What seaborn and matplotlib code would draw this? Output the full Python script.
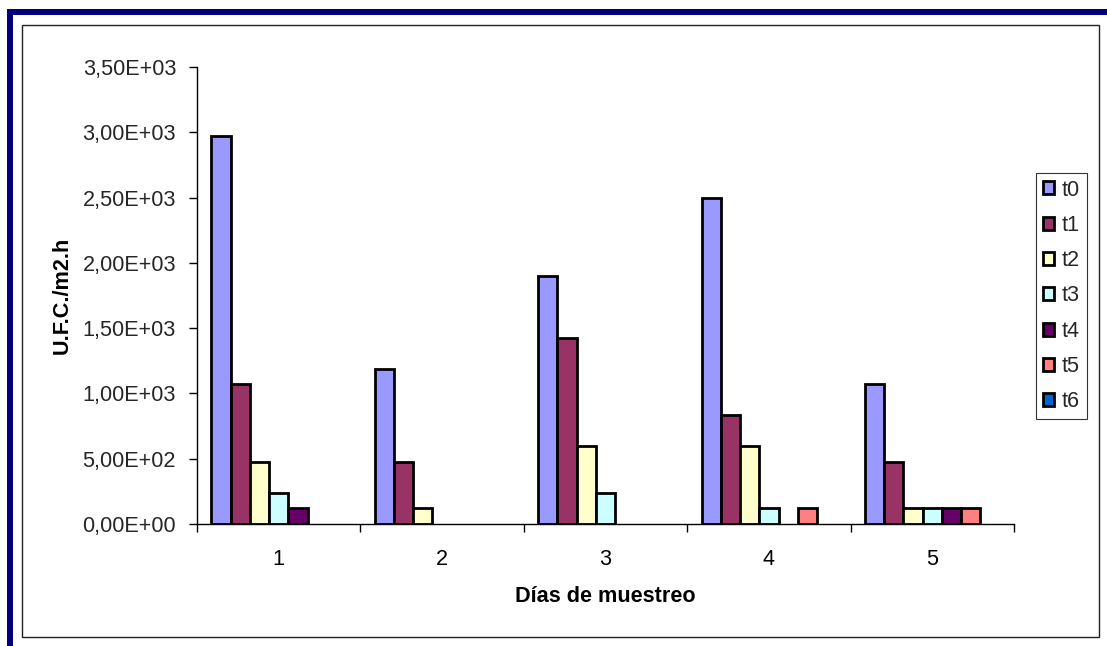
import matplotlib
matplotlib.use("Agg")
import matplotlib.pyplot as plt
from matplotlib.patches import Rectangle, Patch
from matplotlib.ticker import FuncFormatter, FixedLocator
import seaborn as sns
import pandas as pd

# Sampling days and exposure times
dias = ["1", "2", "3", "4", "5"]
tiempos = ["t0", "t1", "t2", "t3", "t4", "t5", "t6"]

# U.F.C./m2.h for each exposure time, one value per sampling day
t0 = [2970.0, 1188.0, 1900.8, 2494.8, 1069.2]
t1 = [1069.2, 475.2, 1425.6, 831.6, 475.2]
t2 = [475.2, 118.8, 594.0, 594.0, 118.8]
t3 = [237.6, 0.0, 237.6, 118.8, 118.8]
t4 = [118.8, 0.0, 0.0, 0.0, 118.8]
t5 = [0.0, 0.0, 0.0, 118.8, 118.8]
t6 = [0.0, 0.0, 0.0, 0.0, 0.0]

colores = ["#9999FF", "#993366", "#FFFFCC", "#CCFFFF", "#660066", "#FF8080", "#0066CC"]

series = [t0, t1, t2, t3, t4, t5, t6]
df = pd.DataFrame(
    [(d, t, v) for t, vals in zip(tiempos, series) for d, v in zip(dias, vals)],
    columns=["dia", "tiempo", "ufc"],
)

sns.set_theme(style="white")
plt.rcParams["font.family"] = ["Liberation Sans", "DejaVu Sans"]

FS = 15.6
W, H = 1107, 646
fig = plt.figure(figsize=(W / 100, H / 100), dpi=100)
fig.patch.set_facecolor("white")

# Page frame: navy band at top/left and thin inner chart border
navy = "#000080"
fig.add_artist(Rectangle((7 / W, 0), 6 / W, 1 - 9 / H, transform=fig.transFigure,
                         facecolor=navy, edgecolor="none"))
fig.add_artist(Rectangle((7 / W, 1 - 15 / H), 1 - 7 / W, 6 / H, transform=fig.transFigure,
                         facecolor=navy, edgecolor="none"))
fig.add_artist(Rectangle((22 / W, 1 - 637 / H), (1099 - 22) / W, (637 - 25) / H,
                         transform=fig.transFigure, facecolor="none",
                         edgecolor="#222222", linewidth=1.0))

ax = fig.add_axes([197 / W, 1 - 524 / H, (1014 - 197) / W, (524 - 67) / H])

sns.barplot(data=df, x="dia", y="ufc", hue="tiempo", order=dias, hue_order=tiempos,
            palette=colores, saturation=1, width=7 / 8.5, gap=0, edgecolor="black",
            linewidth=2.0, errorbar=None, legend=False, ax=ax)

# Empty bars are not drawn
for p in ax.patches:
    if p.get_height() == 0:
        p.set_visible(False)

ax.set_xlim(-0.5, len(dias) - 0.5)
ax.set_ylim(0, 3500)
ax.set_yticks([0, 500, 1000, 1500, 2000, 2500, 3000, 3500])
ax.yaxis.set_major_formatter(FuncFormatter(lambda v, _: f"{v:.2E}".replace(".", ",")))

ax.xaxis.set_minor_locator(FixedLocator([i - 0.5 for i in range(len(dias) + 1)]))
ax.tick_params(axis="x", which="major", length=0, pad=18, labelsize=FS, colors="black")
ax.tick_params(axis="x", which="minor", length=6, width=1, color="black", direction="out",
               bottom=True)
ax.tick_params(axis="y", which="major", length=6, width=1, color="black", direction="out",
               pad=9, labelsize=FS, left=True)

for s in ["top", "right"]:
    ax.spines[s].set_visible(False)
for s in ["left", "bottom"]:
    ax.spines[s].set_color("black")
    ax.spines[s].set_linewidth(1.0)

ax.set_xlabel("Días de muestreo", fontsize=FS, fontweight="bold", color="black")
ax.set_ylabel("U.F.C./m2.h", fontsize=FS, fontweight="bold", color="black")
ax.xaxis.set_label_coords(0.5, -(596 - 524) / (524 - 67))
ax.xaxis.label.set_va("center")
ax.yaxis.set_label_coords(-(197 - 62) / (1014 - 197), 0.5)
ax.yaxis.label.set_va("center")

handles = [Patch(facecolor=c, edgecolor="black", linewidth=2.0) for c in colores]
leg = fig.legend(handles, tiempos, loc="upper left",
                 bbox_to_anchor=(1036 / W, 1 - 173 / H), frameon=True, fancybox=False,
                 edgecolor="black", fontsize=FS, handlelength=0.55, handleheight=0.55,
                 handletextpad=0.35, labelspacing=0.66, borderpad=0.3, borderaxespad=0)
leg.get_frame().set_linewidth(0.8)

fig.savefig("out.png", dpi=100, facecolor="white")
